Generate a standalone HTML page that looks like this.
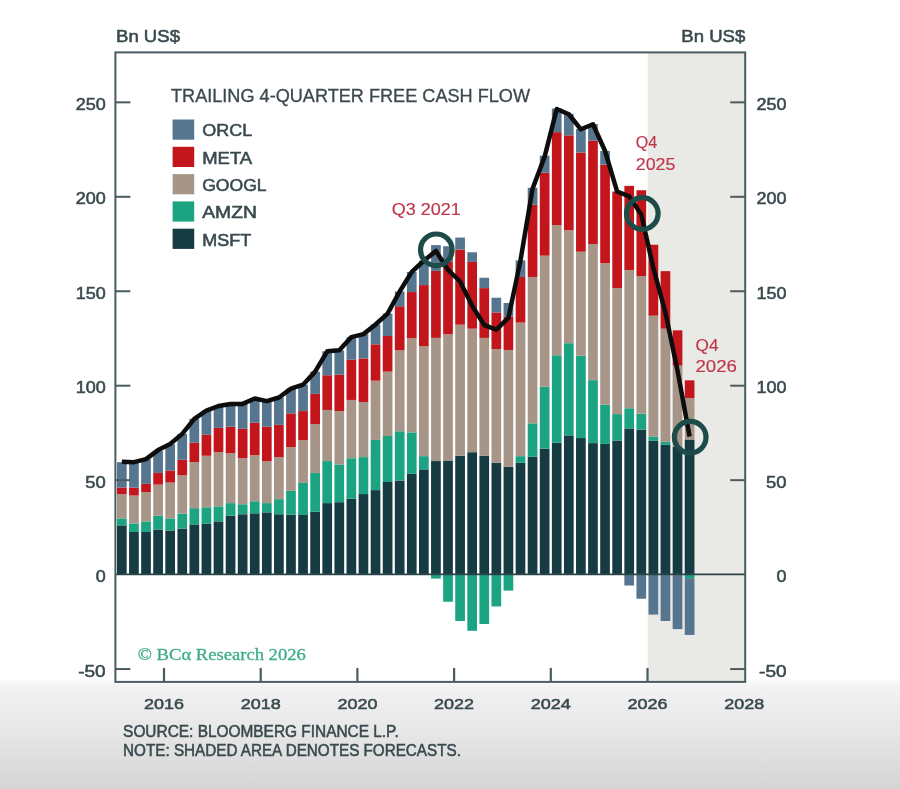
<!DOCTYPE html>
<html><head><meta charset="utf-8"><title>Trailing 4-Quarter Free Cash Flow</title>
<style>
html,body{margin:0;padding:0;background:#fff;}
body{width:900px;height:789px;position:relative;overflow:hidden;font-family:"Liberation Sans",sans-serif;}
svg text{font-family:"Liberation Sans",sans-serif;}
svg text.serif{font-family:"Liberation Serif",serif;}
</style></head><body>
<svg width="900" height="789" viewBox="0 0 900 789" style="position:absolute;left:0;top:0">
<defs><linearGradient id="bg" x1="0" y1="0" x2="0" y2="1"><stop offset="0" stop-color="#ffffff"/><stop offset="0.07" stop-color="#f3f3f3"/><stop offset="0.5" stop-color="#e6e6e6"/><stop offset="1" stop-color="#d5d5d5"/></linearGradient><filter id="soft" x="-2%" y="-2%" width="104%" height="104%"><feGaussianBlur stdDeviation="0.6"/></filter></defs>
<rect x="0" y="0" width="900" height="789" fill="#ffffff"/>
<rect x="0" y="678" width="900" height="111" fill="url(#bg)"/>
<rect x="115.4" y="52.4" width="532.4" height="629.5" fill="#ffffff"/>
<rect x="647.8" y="52.4" width="97.4" height="629.5" fill="#e9e9e5"/>
<g filter="url(#soft)">
<g>
<rect x="646.14" y="244.73" width="2.38" height="329.67" fill="#f4f4f2"/><rect x="658.22" y="271.13" width="2.38" height="303.27" fill="#f4f4f2"/><rect x="670.30" y="330.35" width="2.38" height="244.05" fill="#f4f4f2"/><rect x="682.38" y="380.33" width="2.38" height="194.07" fill="#f4f4f2"/>
<rect x="117.00" y="525.36" width="9.70" height="49.04" fill="#143b43"/><rect x="117.00" y="518.39" width="9.70" height="6.98" fill="#1ba482"/><rect x="117.00" y="494.06" width="9.70" height="24.33" fill="#a79687"/><rect x="117.00" y="487.46" width="9.70" height="6.60" fill="#c2181d"/><rect x="117.00" y="462.18" width="9.70" height="25.27" fill="#57748f"/>
<rect x="129.08" y="531.97" width="9.70" height="42.43" fill="#143b43"/><rect x="129.08" y="523.48" width="9.70" height="8.49" fill="#1ba482"/><rect x="129.08" y="495.57" width="9.70" height="27.91" fill="#a79687"/><rect x="129.08" y="487.64" width="9.70" height="7.92" fill="#c2181d"/><rect x="129.08" y="462.18" width="9.70" height="25.46" fill="#57748f"/>
<rect x="141.16" y="531.97" width="9.70" height="42.43" fill="#143b43"/><rect x="141.16" y="521.40" width="9.70" height="10.56" fill="#1ba482"/><rect x="141.16" y="492.17" width="9.70" height="29.23" fill="#a79687"/><rect x="141.16" y="483.87" width="9.70" height="8.30" fill="#c2181d"/><rect x="141.16" y="459.35" width="9.70" height="24.52" fill="#57748f"/>
<rect x="153.24" y="529.51" width="9.70" height="44.89" fill="#143b43"/><rect x="153.24" y="515.75" width="9.70" height="13.77" fill="#1ba482"/><rect x="153.24" y="484.63" width="9.70" height="31.12" fill="#a79687"/><rect x="153.24" y="472.93" width="9.70" height="11.69" fill="#c2181d"/><rect x="153.24" y="450.87" width="9.70" height="22.07" fill="#57748f"/>
<rect x="165.32" y="530.46" width="9.70" height="43.94" fill="#143b43"/><rect x="165.32" y="518.39" width="9.70" height="12.07" fill="#1ba482"/><rect x="165.32" y="482.55" width="9.70" height="35.83" fill="#a79687"/><rect x="165.32" y="470.48" width="9.70" height="12.07" fill="#c2181d"/><rect x="165.32" y="444.27" width="9.70" height="26.22" fill="#57748f"/>
<rect x="177.40" y="528.57" width="9.70" height="45.83" fill="#143b43"/><rect x="177.40" y="513.67" width="9.70" height="14.90" fill="#1ba482"/><rect x="177.40" y="475.38" width="9.70" height="38.29" fill="#a79687"/><rect x="177.40" y="459.73" width="9.70" height="15.65" fill="#c2181d"/><rect x="177.40" y="433.89" width="9.70" height="25.84" fill="#57748f"/>
<rect x="189.48" y="524.42" width="9.70" height="49.98" fill="#143b43"/><rect x="189.48" y="508.20" width="9.70" height="16.22" fill="#1ba482"/><rect x="189.48" y="461.99" width="9.70" height="46.21" fill="#a79687"/><rect x="189.48" y="442.76" width="9.70" height="19.24" fill="#c2181d"/><rect x="189.48" y="418.80" width="9.70" height="23.95" fill="#57748f"/>
<rect x="201.56" y="523.48" width="9.70" height="50.92" fill="#143b43"/><rect x="201.56" y="507.26" width="9.70" height="16.22" fill="#1ba482"/><rect x="201.56" y="455.77" width="9.70" height="51.49" fill="#a79687"/><rect x="201.56" y="434.84" width="9.70" height="20.93" fill="#c2181d"/><rect x="201.56" y="410.70" width="9.70" height="24.14" fill="#57748f"/>
<rect x="213.64" y="521.40" width="9.70" height="53.00" fill="#143b43"/><rect x="213.64" y="506.32" width="9.70" height="15.09" fill="#1ba482"/><rect x="213.64" y="452.00" width="9.70" height="54.32" fill="#a79687"/><rect x="213.64" y="427.86" width="9.70" height="24.14" fill="#c2181d"/><rect x="213.64" y="405.98" width="9.70" height="21.88" fill="#57748f"/>
<rect x="225.72" y="515.75" width="9.70" height="58.65" fill="#143b43"/><rect x="225.72" y="503.11" width="9.70" height="12.64" fill="#1ba482"/><rect x="225.72" y="453.13" width="9.70" height="49.98" fill="#a79687"/><rect x="225.72" y="426.73" width="9.70" height="26.40" fill="#c2181d"/><rect x="225.72" y="403.91" width="9.70" height="22.82" fill="#57748f"/>
<rect x="237.80" y="514.24" width="9.70" height="60.16" fill="#143b43"/><rect x="237.80" y="504.24" width="9.70" height="10.00" fill="#1ba482"/><rect x="237.80" y="458.22" width="9.70" height="46.02" fill="#a79687"/><rect x="237.80" y="428.80" width="9.70" height="29.42" fill="#c2181d"/><rect x="237.80" y="403.91" width="9.70" height="24.90" fill="#57748f"/>
<rect x="249.88" y="513.29" width="9.70" height="61.11" fill="#143b43"/><rect x="249.88" y="501.22" width="9.70" height="12.07" fill="#1ba482"/><rect x="249.88" y="455.20" width="9.70" height="46.02" fill="#a79687"/><rect x="249.88" y="422.77" width="9.70" height="32.44" fill="#c2181d"/><rect x="249.88" y="398.44" width="9.70" height="24.33" fill="#57748f"/>
<rect x="261.96" y="512.35" width="9.70" height="62.05" fill="#143b43"/><rect x="261.96" y="503.11" width="9.70" height="9.24" fill="#1ba482"/><rect x="261.96" y="461.24" width="9.70" height="41.87" fill="#a79687"/><rect x="261.96" y="426.73" width="9.70" height="34.51" fill="#c2181d"/><rect x="261.96" y="401.08" width="9.70" height="25.65" fill="#57748f"/>
<rect x="274.04" y="514.24" width="9.70" height="60.16" fill="#143b43"/><rect x="274.04" y="499.15" width="9.70" height="15.09" fill="#1ba482"/><rect x="274.04" y="457.09" width="9.70" height="42.06" fill="#a79687"/><rect x="274.04" y="424.84" width="9.70" height="32.25" fill="#c2181d"/><rect x="274.04" y="397.49" width="9.70" height="27.35" fill="#57748f"/>
<rect x="286.12" y="514.61" width="9.70" height="59.79" fill="#143b43"/><rect x="286.12" y="490.85" width="9.70" height="23.76" fill="#1ba482"/><rect x="286.12" y="447.09" width="9.70" height="43.76" fill="#a79687"/><rect x="286.12" y="413.34" width="9.70" height="33.76" fill="#c2181d"/><rect x="286.12" y="388.63" width="9.70" height="24.71" fill="#57748f"/>
<rect x="298.20" y="514.99" width="9.70" height="59.41" fill="#143b43"/><rect x="298.20" y="482.93" width="9.70" height="32.06" fill="#1ba482"/><rect x="298.20" y="440.31" width="9.70" height="42.62" fill="#a79687"/><rect x="298.20" y="411.07" width="9.70" height="29.23" fill="#c2181d"/><rect x="298.20" y="384.67" width="9.70" height="26.40" fill="#57748f"/>
<rect x="310.28" y="511.78" width="9.70" height="62.62" fill="#143b43"/><rect x="310.28" y="472.93" width="9.70" height="38.85" fill="#1ba482"/><rect x="310.28" y="424.09" width="9.70" height="48.85" fill="#a79687"/><rect x="310.28" y="393.91" width="9.70" height="30.18" fill="#c2181d"/><rect x="310.28" y="371.65" width="9.70" height="22.25" fill="#57748f"/>
<rect x="322.36" y="503.11" width="9.70" height="71.29" fill="#143b43"/><rect x="322.36" y="461.05" width="9.70" height="42.06" fill="#1ba482"/><rect x="322.36" y="409.94" width="9.70" height="51.11" fill="#a79687"/><rect x="322.36" y="375.24" width="9.70" height="34.70" fill="#c2181d"/><rect x="322.36" y="351.29" width="9.70" height="23.95" fill="#57748f"/>
<rect x="334.44" y="502.17" width="9.70" height="72.23" fill="#143b43"/><rect x="334.44" y="464.45" width="9.70" height="37.72" fill="#1ba482"/><rect x="334.44" y="411.07" width="9.70" height="53.37" fill="#a79687"/><rect x="334.44" y="374.67" width="9.70" height="36.40" fill="#c2181d"/><rect x="334.44" y="350.34" width="9.70" height="24.33" fill="#57748f"/>
<rect x="346.52" y="498.77" width="9.70" height="75.63" fill="#143b43"/><rect x="346.52" y="458.22" width="9.70" height="40.55" fill="#1ba482"/><rect x="346.52" y="399.94" width="9.70" height="58.28" fill="#a79687"/><rect x="346.52" y="359.77" width="9.70" height="40.17" fill="#c2181d"/><rect x="346.52" y="337.14" width="9.70" height="22.63" fill="#57748f"/>
<rect x="358.60" y="494.06" width="9.70" height="80.34" fill="#143b43"/><rect x="358.60" y="457.09" width="9.70" height="36.97" fill="#1ba482"/><rect x="358.60" y="402.02" width="9.70" height="55.07" fill="#a79687"/><rect x="358.60" y="358.45" width="9.70" height="43.57" fill="#c2181d"/><rect x="358.60" y="334.12" width="9.70" height="24.33" fill="#57748f"/>
<rect x="370.68" y="490.10" width="9.70" height="84.30" fill="#143b43"/><rect x="370.68" y="439.93" width="9.70" height="50.17" fill="#1ba482"/><rect x="370.68" y="380.71" width="9.70" height="59.22" fill="#a79687"/><rect x="370.68" y="344.31" width="9.70" height="36.40" fill="#c2181d"/><rect x="370.68" y="324.50" width="9.70" height="19.80" fill="#57748f"/>
<rect x="382.76" y="481.99" width="9.70" height="92.41" fill="#143b43"/><rect x="382.76" y="435.97" width="9.70" height="46.02" fill="#1ba482"/><rect x="382.76" y="371.65" width="9.70" height="64.31" fill="#a79687"/><rect x="382.76" y="336.01" width="9.70" height="35.65" fill="#c2181d"/><rect x="382.76" y="313.57" width="9.70" height="22.44" fill="#57748f"/>
<rect x="394.84" y="480.48" width="9.70" height="93.92" fill="#143b43"/><rect x="394.84" y="431.25" width="9.70" height="49.22" fill="#1ba482"/><rect x="394.84" y="350.34" width="9.70" height="80.91" fill="#a79687"/><rect x="394.84" y="306.21" width="9.70" height="44.13" fill="#c2181d"/><rect x="394.84" y="291.50" width="9.70" height="14.71" fill="#57748f"/>
<rect x="406.92" y="473.88" width="9.70" height="100.52" fill="#143b43"/><rect x="406.92" y="432.38" width="9.70" height="41.49" fill="#1ba482"/><rect x="406.92" y="338.08" width="9.70" height="94.30" fill="#a79687"/><rect x="406.92" y="292.07" width="9.70" height="46.02" fill="#c2181d"/><rect x="406.92" y="271.89" width="9.70" height="20.18" fill="#57748f"/>
<rect x="419.00" y="469.35" width="9.70" height="105.05" fill="#143b43"/><rect x="419.00" y="456.15" width="9.70" height="13.20" fill="#1ba482"/><rect x="419.00" y="346.19" width="9.70" height="109.95" fill="#a79687"/><rect x="419.00" y="285.09" width="9.70" height="61.11" fill="#c2181d"/><rect x="419.00" y="260.76" width="9.70" height="24.33" fill="#57748f"/>
<rect x="431.08" y="461.05" width="9.70" height="113.35" fill="#143b43"/><rect x="431.08" y="574.40" width="9.70" height="4.15" fill="#1ba482"/><rect x="431.08" y="337.90" width="9.70" height="123.16" fill="#a79687"/><rect x="431.08" y="270.94" width="9.70" height="66.95" fill="#c2181d"/><rect x="431.08" y="245.10" width="9.70" height="25.84" fill="#57748f"/>
<rect x="443.16" y="460.49" width="9.70" height="113.91" fill="#143b43"/><rect x="443.16" y="574.40" width="9.70" height="27.35" fill="#1ba482"/><rect x="443.16" y="334.31" width="9.70" height="126.17" fill="#a79687"/><rect x="443.16" y="261.32" width="9.70" height="72.99" fill="#c2181d"/><rect x="443.16" y="246.24" width="9.70" height="15.09" fill="#57748f"/>
<rect x="455.24" y="455.77" width="9.70" height="118.63" fill="#143b43"/><rect x="455.24" y="574.40" width="9.70" height="46.58" fill="#1ba482"/><rect x="455.24" y="324.69" width="9.70" height="131.08" fill="#a79687"/><rect x="455.24" y="249.63" width="9.70" height="75.06" fill="#c2181d"/><rect x="455.24" y="237.56" width="9.70" height="12.07" fill="#57748f"/>
<rect x="467.32" y="452.19" width="9.70" height="122.21" fill="#143b43"/><rect x="467.32" y="574.40" width="9.70" height="56.39" fill="#1ba482"/><rect x="467.32" y="328.65" width="9.70" height="123.53" fill="#a79687"/><rect x="467.32" y="261.89" width="9.70" height="66.76" fill="#c2181d"/><rect x="467.32" y="252.27" width="9.70" height="9.62" fill="#57748f"/>
<rect x="479.40" y="455.77" width="9.70" height="118.63" fill="#143b43"/><rect x="479.40" y="574.40" width="9.70" height="49.60" fill="#1ba482"/><rect x="479.40" y="337.90" width="9.70" height="117.88" fill="#a79687"/><rect x="479.40" y="288.11" width="9.70" height="49.79" fill="#c2181d"/><rect x="479.40" y="277.73" width="9.70" height="10.37" fill="#57748f"/>
<rect x="491.48" y="462.75" width="9.70" height="111.65" fill="#143b43"/><rect x="491.48" y="574.40" width="9.70" height="32.06" fill="#1ba482"/><rect x="491.48" y="349.02" width="9.70" height="113.73" fill="#a79687"/><rect x="491.48" y="312.43" width="9.70" height="36.59" fill="#c2181d"/><rect x="491.48" y="297.72" width="9.70" height="14.71" fill="#57748f"/>
<rect x="503.56" y="466.90" width="9.70" height="107.50" fill="#143b43"/><rect x="503.56" y="574.40" width="9.70" height="16.22" fill="#1ba482"/><rect x="503.56" y="349.97" width="9.70" height="116.93" fill="#a79687"/><rect x="503.56" y="316.58" width="9.70" height="33.38" fill="#c2181d"/><rect x="503.56" y="303.00" width="9.70" height="13.58" fill="#57748f"/>
<rect x="515.64" y="462.75" width="9.70" height="111.65" fill="#143b43"/><rect x="515.64" y="456.15" width="9.70" height="6.60" fill="#1ba482"/><rect x="515.64" y="322.62" width="9.70" height="133.53" fill="#a79687"/><rect x="515.64" y="276.98" width="9.70" height="45.64" fill="#c2181d"/><rect x="515.64" y="260.38" width="9.70" height="16.60" fill="#57748f"/>
<rect x="527.72" y="456.71" width="9.70" height="117.69" fill="#143b43"/><rect x="527.72" y="423.33" width="9.70" height="33.38" fill="#1ba482"/><rect x="527.72" y="276.98" width="9.70" height="146.35" fill="#a79687"/><rect x="527.72" y="204.74" width="9.70" height="72.23" fill="#c2181d"/><rect x="527.72" y="187.77" width="9.70" height="16.97" fill="#57748f"/>
<rect x="539.80" y="448.60" width="9.70" height="125.80" fill="#143b43"/><rect x="539.80" y="386.74" width="9.70" height="61.86" fill="#1ba482"/><rect x="539.80" y="255.67" width="9.70" height="131.08" fill="#a79687"/><rect x="539.80" y="172.68" width="9.70" height="82.98" fill="#c2181d"/><rect x="539.80" y="155.71" width="9.70" height="16.97" fill="#57748f"/>
<rect x="551.88" y="442.57" width="9.70" height="131.83" fill="#143b43"/><rect x="551.88" y="355.25" width="9.70" height="87.32" fill="#1ba482"/><rect x="551.88" y="225.11" width="9.70" height="130.13" fill="#a79687"/><rect x="551.88" y="132.13" width="9.70" height="92.98" fill="#c2181d"/><rect x="551.88" y="108.56" width="9.70" height="23.57" fill="#57748f"/>
<rect x="563.96" y="435.40" width="9.70" height="139.00" fill="#143b43"/><rect x="563.96" y="343.18" width="9.70" height="92.23" fill="#1ba482"/><rect x="563.96" y="230.20" width="9.70" height="112.97" fill="#a79687"/><rect x="563.96" y="135.34" width="9.70" height="94.87" fill="#c2181d"/><rect x="563.96" y="113.84" width="9.70" height="21.50" fill="#57748f"/>
<rect x="576.04" y="438.04" width="9.70" height="136.36" fill="#143b43"/><rect x="576.04" y="355.62" width="9.70" height="82.42" fill="#1ba482"/><rect x="576.04" y="251.71" width="9.70" height="103.92" fill="#a79687"/><rect x="576.04" y="152.50" width="9.70" height="99.20" fill="#c2181d"/><rect x="576.04" y="128.93" width="9.70" height="23.57" fill="#57748f"/>
<rect x="588.12" y="443.13" width="9.70" height="131.27" fill="#143b43"/><rect x="588.12" y="380.14" width="9.70" height="62.99" fill="#1ba482"/><rect x="588.12" y="243.97" width="9.70" height="136.17" fill="#a79687"/><rect x="588.12" y="140.62" width="9.70" height="103.35" fill="#c2181d"/><rect x="588.12" y="124.02" width="9.70" height="16.60" fill="#57748f"/>
<rect x="600.20" y="443.89" width="9.70" height="130.51" fill="#143b43"/><rect x="600.20" y="404.66" width="9.70" height="39.23" fill="#1ba482"/><rect x="600.20" y="263.21" width="9.70" height="141.45" fill="#a79687"/><rect x="600.20" y="164.57" width="9.70" height="98.64" fill="#c2181d"/><rect x="600.20" y="150.99" width="9.70" height="13.58" fill="#57748f"/>
<rect x="612.28" y="440.49" width="9.70" height="133.91" fill="#143b43"/><rect x="612.28" y="414.09" width="9.70" height="26.40" fill="#1ba482"/><rect x="612.28" y="288.11" width="9.70" height="125.98" fill="#a79687"/><rect x="612.28" y="191.54" width="9.70" height="96.56" fill="#c2181d"/>
<rect x="624.36" y="428.42" width="9.70" height="145.98" fill="#143b43"/><rect x="624.36" y="408.24" width="9.70" height="20.18" fill="#1ba482"/><rect x="624.36" y="270.00" width="9.70" height="138.24" fill="#a79687"/><rect x="624.36" y="185.88" width="9.70" height="84.12" fill="#c2181d"/><rect x="624.36" y="574.40" width="9.70" height="11.13" fill="#57748f"/>
<rect x="636.44" y="429.56" width="9.70" height="144.84" fill="#143b43"/><rect x="636.44" y="413.71" width="9.70" height="15.84" fill="#1ba482"/><rect x="636.44" y="276.03" width="9.70" height="137.68" fill="#a79687"/><rect x="636.44" y="190.22" width="9.70" height="85.81" fill="#c2181d"/><rect x="636.44" y="574.40" width="9.70" height="24.33" fill="#57748f"/>
<rect x="648.52" y="440.68" width="9.70" height="133.72" fill="#143b43"/><rect x="648.52" y="436.53" width="9.70" height="4.15" fill="#1ba482"/><rect x="648.52" y="315.64" width="9.70" height="120.89" fill="#a79687"/><rect x="648.52" y="244.73" width="9.70" height="70.91" fill="#c2181d"/><rect x="648.52" y="574.40" width="9.70" height="40.17" fill="#57748f"/>
<rect x="660.60" y="444.64" width="9.70" height="129.76" fill="#143b43"/><rect x="660.60" y="441.81" width="9.70" height="2.83" fill="#1ba482"/><rect x="660.60" y="328.65" width="9.70" height="113.16" fill="#a79687"/><rect x="660.60" y="271.13" width="9.70" height="57.52" fill="#c2181d"/><rect x="660.60" y="574.40" width="9.70" height="46.58" fill="#57748f"/>
<rect x="672.68" y="446.72" width="9.70" height="127.68" fill="#143b43"/><rect x="672.68" y="365.62" width="9.70" height="81.10" fill="#a79687"/><rect x="672.68" y="330.35" width="9.70" height="35.27" fill="#c2181d"/><rect x="672.68" y="574.40" width="9.70" height="54.69" fill="#57748f"/>
<rect x="684.76" y="439.55" width="9.70" height="134.85" fill="#143b43"/><rect x="684.76" y="574.40" width="9.70" height="3.77" fill="#1ba482"/><rect x="684.76" y="398.06" width="9.70" height="41.49" fill="#a79687"/><rect x="684.76" y="380.33" width="9.70" height="17.73" fill="#c2181d"/><rect x="684.76" y="578.17" width="9.70" height="56.77" fill="#57748f"/>
</g>
<line x1="115.4" y1="574.40" x2="745.2" y2="574.40" stroke="#2c4449" stroke-width="1.6"/>
<rect x="115.4" y="52.4" width="629.8" height="629.5" fill="none" stroke="#4a5c60" stroke-width="2"/>
<line x1="115.4" y1="102.35" x2="130.4" y2="102.35" stroke="#4a5c60" stroke-width="2"/>
<line x1="730.2" y1="102.35" x2="745.2" y2="102.35" stroke="#4a5c60" stroke-width="2"/>
<line x1="115.4" y1="196.80" x2="130.4" y2="196.80" stroke="#4a5c60" stroke-width="2"/>
<line x1="730.2" y1="196.80" x2="745.2" y2="196.80" stroke="#4a5c60" stroke-width="2"/>
<line x1="115.4" y1="291.25" x2="130.4" y2="291.25" stroke="#4a5c60" stroke-width="2"/>
<line x1="730.2" y1="291.25" x2="745.2" y2="291.25" stroke="#4a5c60" stroke-width="2"/>
<line x1="115.4" y1="385.70" x2="130.4" y2="385.70" stroke="#4a5c60" stroke-width="2"/>
<line x1="730.2" y1="385.70" x2="745.2" y2="385.70" stroke="#4a5c60" stroke-width="2"/>
<line x1="115.4" y1="480.15" x2="130.4" y2="480.15" stroke="#4a5c60" stroke-width="2"/>
<line x1="730.2" y1="480.15" x2="745.2" y2="480.15" stroke="#4a5c60" stroke-width="2"/>
<line x1="115.4" y1="669.05" x2="130.4" y2="669.05" stroke="#4a5c60" stroke-width="2"/>
<line x1="730.2" y1="669.05" x2="745.2" y2="669.05" stroke="#4a5c60" stroke-width="2"/>
<line x1="164.0" y1="667.9" x2="164.0" y2="681.9" stroke="#4a5c60" stroke-width="2.2"/>
<line x1="260.7" y1="667.9" x2="260.7" y2="681.9" stroke="#4a5c60" stroke-width="2.2"/>
<line x1="357.4" y1="667.9" x2="357.4" y2="681.9" stroke="#4a5c60" stroke-width="2.2"/>
<line x1="454.1" y1="667.9" x2="454.1" y2="681.9" stroke="#4a5c60" stroke-width="2.2"/>
<line x1="550.8" y1="667.9" x2="550.8" y2="681.9" stroke="#4a5c60" stroke-width="2.2"/>
<line x1="647.5" y1="667.9" x2="647.5" y2="681.9" stroke="#4a5c60" stroke-width="2.2"/>
<polyline points="121.85,461.81 133.93,462.18 146.01,459.17 158.09,450.11 170.17,444.08 182.25,433.89 194.33,418.80 206.41,410.70 218.49,405.98 230.57,403.91 242.65,403.91 254.73,398.44 266.81,401.08 278.89,397.49 290.97,388.63 303.05,384.67 315.13,371.65 327.21,351.29 339.29,350.34 351.37,337.14 363.45,334.12 375.53,324.50 387.61,313.57 399.69,291.50 411.77,271.89 423.85,260.76 435.93,250.95 448.01,269.81 460.09,281.50 472.17,305.83 484.25,325.07 496.33,329.60 508.41,317.90 520.49,260.38 532.57,188.71 544.65,156.65 556.73,108.94 568.81,114.22 580.89,129.30 592.97,124.21 605.05,150.99 617.13,191.54 629.21,196.45 641.29,214.55 653.37,268.11 665.45,312.62 677.53,370.71 689.61,436.53" fill="none" stroke="#0b0b0b" stroke-width="4.5" stroke-linejoin="round" stroke-linecap="butt"/>
<circle cx="436.3" cy="249.8" r="15.8" fill="none" stroke="#1b4c49" stroke-width="5.2"/>
<circle cx="642.3" cy="213.5" r="15.8" fill="none" stroke="#1b4c49" stroke-width="5.2"/>
<circle cx="690.2" cy="437.2" r="15.8" fill="none" stroke="#1b4c49" stroke-width="5.2"/>
<text x="116" y="41.8" font-size="17" fill="#3a4a4e" text-anchor="start" stroke="#3a4a4e" stroke-width="0.55" textLength="64" lengthAdjust="spacingAndGlyphs">Bn US$</text>
<text x="681.3" y="41.8" font-size="17" fill="#3a4a4e" text-anchor="start" stroke="#3a4a4e" stroke-width="0.55" textLength="64" lengthAdjust="spacingAndGlyphs">Bn US$</text>
<text x="75.7" y="109.9" font-size="16.5" fill="#3a4a4e" text-anchor="start" stroke="#3a4a4e" stroke-width="0.55" textLength="30" lengthAdjust="spacingAndGlyphs">250</text>
<text x="756.6" y="109.9" font-size="16.5" fill="#3a4a4e" text-anchor="start" stroke="#3a4a4e" stroke-width="0.55" textLength="30" lengthAdjust="spacingAndGlyphs">250</text>
<text x="75.7" y="204.3" font-size="16.5" fill="#3a4a4e" text-anchor="start" stroke="#3a4a4e" stroke-width="0.55" textLength="30" lengthAdjust="spacingAndGlyphs">200</text>
<text x="756.6" y="204.3" font-size="16.5" fill="#3a4a4e" text-anchor="start" stroke="#3a4a4e" stroke-width="0.55" textLength="30" lengthAdjust="spacingAndGlyphs">200</text>
<text x="75.7" y="298.8" font-size="16.5" fill="#3a4a4e" text-anchor="start" stroke="#3a4a4e" stroke-width="0.55" textLength="30" lengthAdjust="spacingAndGlyphs">150</text>
<text x="756.6" y="298.8" font-size="16.5" fill="#3a4a4e" text-anchor="start" stroke="#3a4a4e" stroke-width="0.55" textLength="30" lengthAdjust="spacingAndGlyphs">150</text>
<text x="75.7" y="393.2" font-size="16.5" fill="#3a4a4e" text-anchor="start" stroke="#3a4a4e" stroke-width="0.55" textLength="30" lengthAdjust="spacingAndGlyphs">100</text>
<text x="756.6" y="393.2" font-size="16.5" fill="#3a4a4e" text-anchor="start" stroke="#3a4a4e" stroke-width="0.55" textLength="30" lengthAdjust="spacingAndGlyphs">100</text>
<text x="85.2" y="487.7" font-size="16.5" fill="#3a4a4e" text-anchor="start" stroke="#3a4a4e" stroke-width="0.55" textLength="20.5" lengthAdjust="spacingAndGlyphs">50</text>
<text x="766.1" y="487.7" font-size="16.5" fill="#3a4a4e" text-anchor="start" stroke="#3a4a4e" stroke-width="0.55" textLength="20.5" lengthAdjust="spacingAndGlyphs">50</text>
<text x="95.7" y="582.1" font-size="16.5" fill="#3a4a4e" text-anchor="start" stroke="#3a4a4e" stroke-width="0.55" textLength="10" lengthAdjust="spacingAndGlyphs">0</text>
<text x="776.6" y="582.1" font-size="16.5" fill="#3a4a4e" text-anchor="start" stroke="#3a4a4e" stroke-width="0.55" textLength="10" lengthAdjust="spacingAndGlyphs">0</text>
<text x="78.2" y="676.6" font-size="16.5" fill="#3a4a4e" text-anchor="start" stroke="#3a4a4e" stroke-width="0.55" textLength="27.5" lengthAdjust="spacingAndGlyphs">-50</text>
<text x="759.1" y="676.6" font-size="16.5" fill="#3a4a4e" text-anchor="start" stroke="#3a4a4e" stroke-width="0.55" textLength="27.5" lengthAdjust="spacingAndGlyphs">-50</text>
<text x="164.0" y="709.3" font-size="15.5" fill="#3a4a4e" text-anchor="middle" stroke="#3a4a4e" stroke-width="0.55" textLength="40" lengthAdjust="spacingAndGlyphs">2016</text>
<text x="260.7" y="709.3" font-size="15.5" fill="#3a4a4e" text-anchor="middle" stroke="#3a4a4e" stroke-width="0.55" textLength="40" lengthAdjust="spacingAndGlyphs">2018</text>
<text x="357.4" y="709.3" font-size="15.5" fill="#3a4a4e" text-anchor="middle" stroke="#3a4a4e" stroke-width="0.55" textLength="40" lengthAdjust="spacingAndGlyphs">2020</text>
<text x="454.1" y="709.3" font-size="15.5" fill="#3a4a4e" text-anchor="middle" stroke="#3a4a4e" stroke-width="0.55" textLength="40" lengthAdjust="spacingAndGlyphs">2022</text>
<text x="550.8" y="709.3" font-size="15.5" fill="#3a4a4e" text-anchor="middle" stroke="#3a4a4e" stroke-width="0.55" textLength="40" lengthAdjust="spacingAndGlyphs">2024</text>
<text x="647.5" y="709.3" font-size="15.5" fill="#3a4a4e" text-anchor="middle" stroke="#3a4a4e" stroke-width="0.55" textLength="40" lengthAdjust="spacingAndGlyphs">2026</text>
<text x="744.2" y="709.3" font-size="15.5" fill="#3a4a4e" text-anchor="middle" stroke="#3a4a4e" stroke-width="0.55" textLength="40" lengthAdjust="spacingAndGlyphs">2028</text>
<text x="171" y="102.0" font-size="17.5" fill="#3a4a4e" text-anchor="start" stroke="#3a4a4e" stroke-width="0.3" textLength="359" lengthAdjust="spacingAndGlyphs">TRAILING 4-QUARTER FREE CASH FLOW</text>
<rect x="172.6" y="119.5" width="21.6" height="20.2" fill="#57748f"/>
<text x="202.2" y="136.4" font-size="17" fill="#3a4a4e" text-anchor="start" stroke="#3a4a4e" stroke-width="0.55" textLength="50" lengthAdjust="spacingAndGlyphs">ORCL</text>
<rect x="172.6" y="146.8" width="21.6" height="20.2" fill="#c2181d"/>
<text x="202.2" y="163.7" font-size="17" fill="#3a4a4e" text-anchor="start" stroke="#3a4a4e" stroke-width="0.55" textLength="50" lengthAdjust="spacingAndGlyphs">META</text>
<rect x="172.6" y="174.1" width="21.6" height="20.2" fill="#a79687"/>
<text x="202.2" y="191.0" font-size="17" fill="#3a4a4e" text-anchor="start" stroke="#3a4a4e" stroke-width="0.55" textLength="64.4" lengthAdjust="spacingAndGlyphs">GOOGL</text>
<rect x="172.6" y="201.4" width="21.6" height="20.2" fill="#1ba482"/>
<text x="202.2" y="218.3" font-size="17" fill="#3a4a4e" text-anchor="start" stroke="#3a4a4e" stroke-width="0.55" textLength="54.7" lengthAdjust="spacingAndGlyphs">AMZN</text>
<rect x="172.6" y="228.7" width="21.6" height="20.2" fill="#143b43"/>
<text x="202.2" y="245.6" font-size="17" fill="#3a4a4e" text-anchor="start" stroke="#3a4a4e" stroke-width="0.55" textLength="49" lengthAdjust="spacingAndGlyphs">MSFT</text>
<text x="391.7" y="215.4" font-size="16.5" fill="#bf3448" text-anchor="start" stroke="#bf3448" stroke-width="0.15" textLength="69" lengthAdjust="spacingAndGlyphs">Q3 2021</text>
<text x="635.8" y="148.0" font-size="16.5" fill="#bf3448" text-anchor="start" stroke="#bf3448" stroke-width="0.15" textLength="21.5" lengthAdjust="spacingAndGlyphs">Q4</text>
<text x="635.8" y="170.3" font-size="16.5" fill="#bf3448" text-anchor="start" stroke="#bf3448" stroke-width="0.15" textLength="39.6" lengthAdjust="spacingAndGlyphs">2025</text>
<text x="695.5" y="350.5" font-size="16.5" fill="#bf3448" text-anchor="start" stroke="#bf3448" stroke-width="0.15" textLength="23" lengthAdjust="spacingAndGlyphs">Q4</text>
<text x="695.5" y="371.8" font-size="16.5" fill="#bf3448" text-anchor="start" stroke="#bf3448" stroke-width="0.15" textLength="41.5" lengthAdjust="spacingAndGlyphs">2026</text>
<text x="137.8" y="660.3" font-size="16.5" fill="#3dac8c" text-anchor="start" class="serif" stroke="#3dac8c" stroke-width="0.3" textLength="168" lengthAdjust="spacingAndGlyphs">© BCα Research 2026</text>
<text x="123.1" y="736.8" font-size="16.5" fill="#3a4a4e" text-anchor="start" stroke="#3a4a4e" stroke-width="0.55" textLength="275.6" lengthAdjust="spacingAndGlyphs">SOURCE: BLOOMBERG FINANCE L.P.</text>
<text x="123.1" y="756.0" font-size="16.5" fill="#3a4a4e" text-anchor="start" stroke="#3a4a4e" stroke-width="0.55" textLength="337.8" lengthAdjust="spacingAndGlyphs">NOTE: SHADED AREA DENOTES FORECASTS.</text>
</g>
</svg>
</body></html>
